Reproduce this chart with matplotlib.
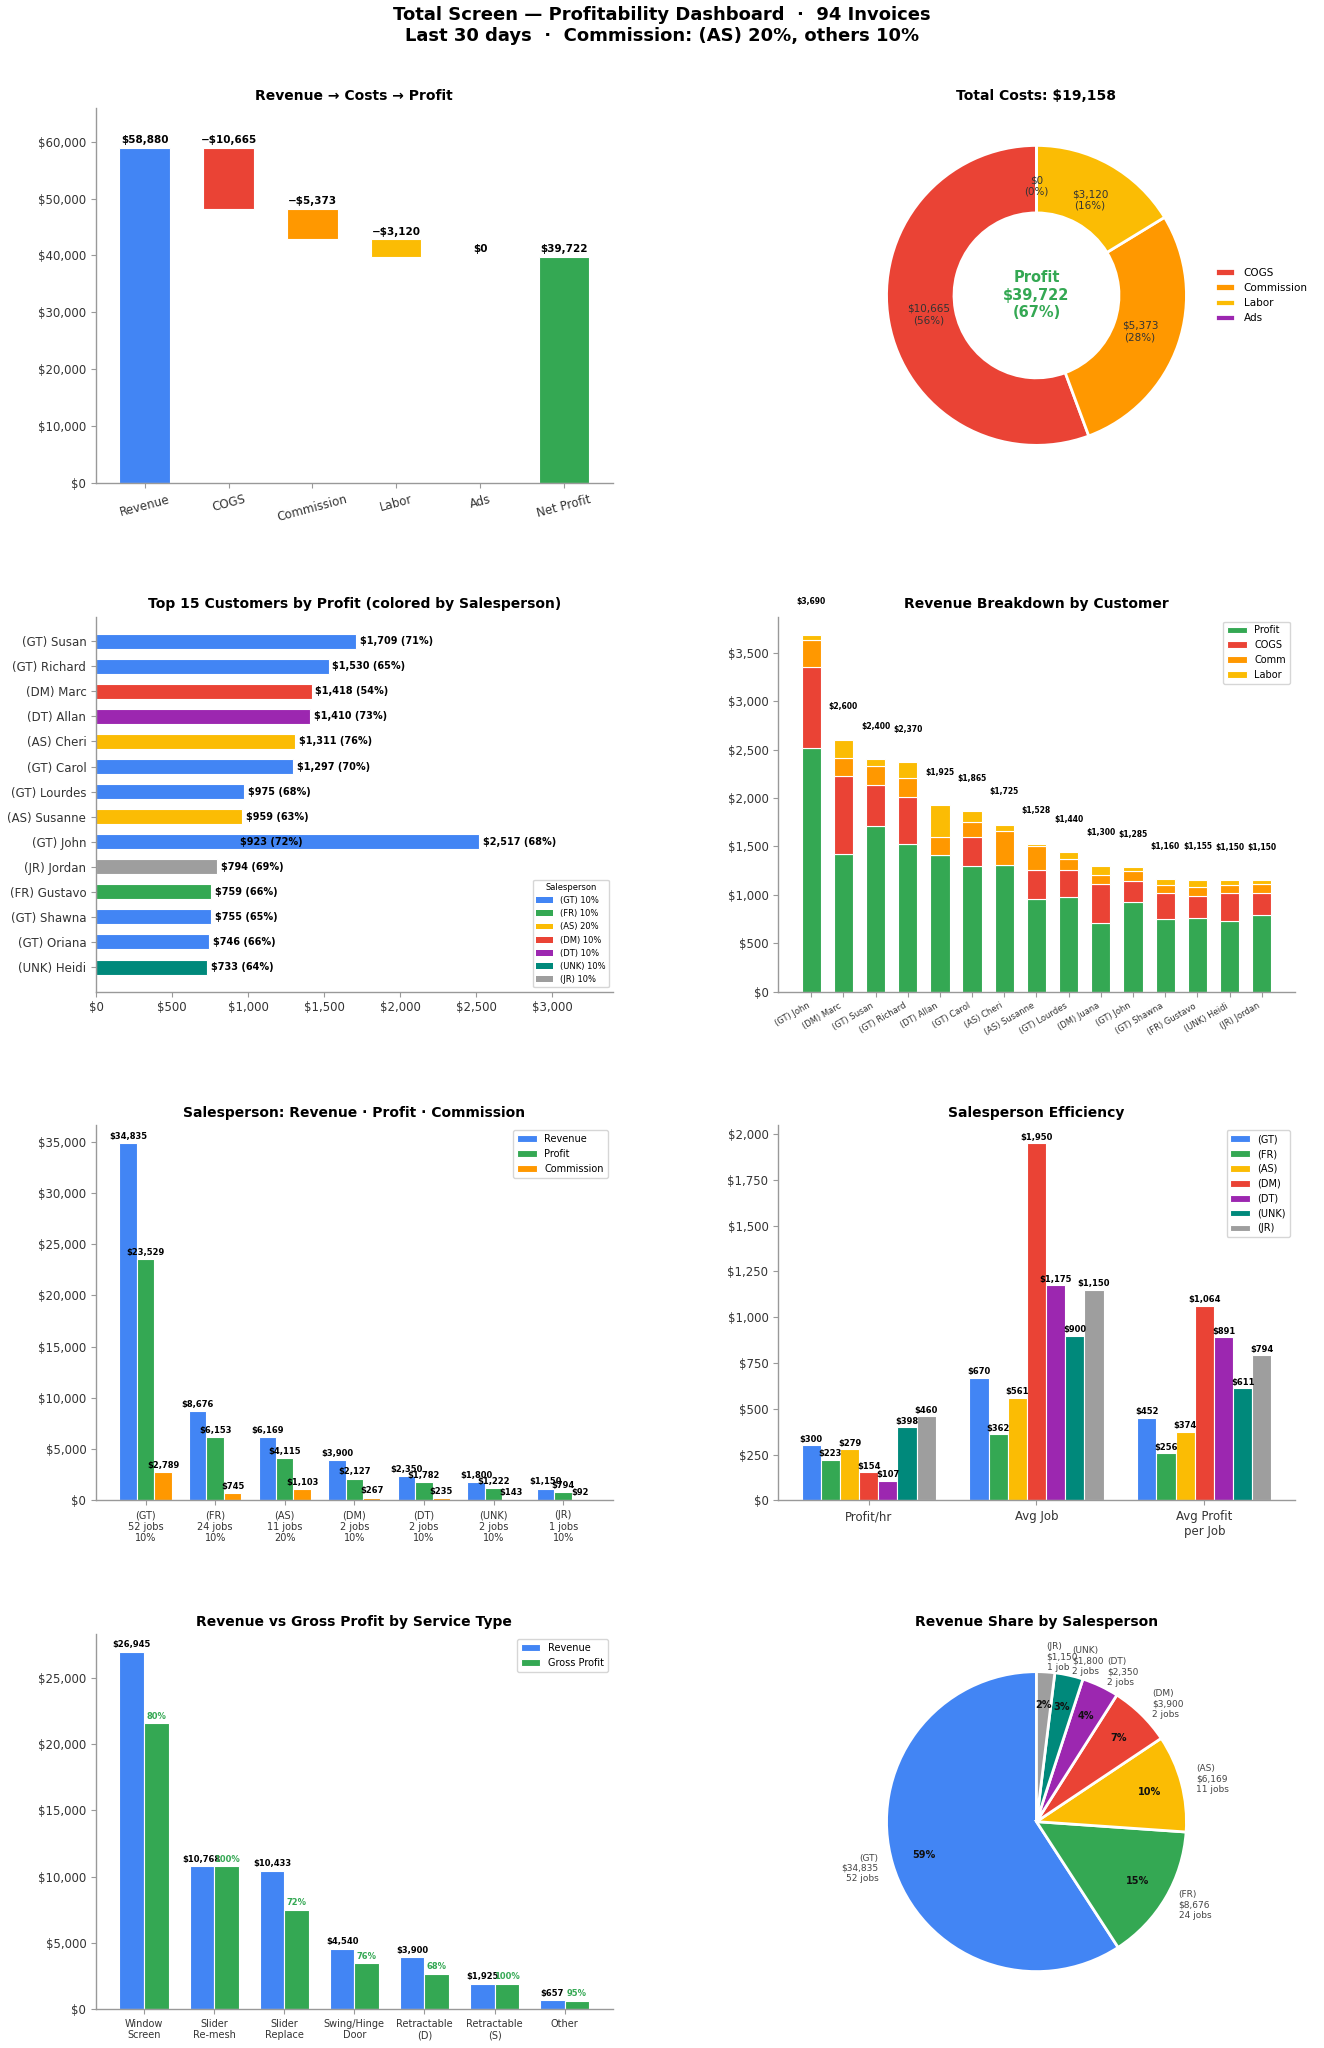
import matplotlib
matplotlib.use('Agg')
import matplotlib.pyplot as plt
from matplotlib.patches import Patch
from matplotlib.ticker import FuncFormatter
import numpy as np

BLUE = '#4285F4'
RED = '#EA4335'
ORANGE = '#FF9800'
YELLOW = '#FBBC04'
GREEN = '#34A853'
PURPLE = '#9C27B0'
TEAL = '#00897B'
GRAY = '#9E9E9E'

# ---- data ----
revenue_total = 58880
cost_names = ['COGS', 'Commission', 'Labor', 'Ads']
cost_values = [10665, 5373, 3120, 0]
net_profit = 39722
wf_labels = ['Revenue', 'COGS', 'Commission', 'Labor', 'Ads', 'Net Profit']

top_names = ['(GT) John', '(GT) Susan', '(GT) Richard', '(DM) Marc', '(DT) Allan',
             '(AS) Cheri', '(GT) Carol', '(GT) Lourdes', '(AS) Susanne', '(GT) John',
             '(JR) Jordan', '(FR) Gustavo', '(GT) Shawna', '(GT) Oriana', '(UNK) Heidi']
top_profit = [2517, 1709, 1530, 1418, 1410, 1311, 1297, 975, 959, 923, 794, 759, 755, 746, 733]
top_margin = [68, 71, 65, 54, 73, 76, 70, 68, 63, 72, 69, 66, 65, 66, 64]

bd_names = ['(GT) John', '(DM) Marc', '(GT) Susan', '(GT) Richard', '(DT) Allan',
            '(GT) Carol', '(AS) Cheri', '(AS) Susanne', '(GT) Lourdes', '(DM) Juana',
            '(GT) John', '(GT) Shawna', '(FR) Gustavo', '(UNK) Heidi', '(JR) Jordan']
bd_total = [3690, 2600, 2400, 2370, 1925, 1865, 1725, 1528, 1440, 1300, 1285, 1160, 1155, 1150, 1150]
bd_profit = [2517, 1418, 1709, 1530, 1410, 1297, 1311, 959, 975, 707, 923, 755, 759, 733, 794]
bd_cogs = [834, 813, 429, 484, 0, 296, 0, 296, 280, 407, 215, 259, 227, 281, 223]
bd_comm = [286, 179, 197, 189, 192, 157, 345, 246, 116, 89, 107, 90, 93, 87, 93]
bd_labor = [53, 190, 65, 167, 323, 115, 69, 27, 69, 97, 40, 56, 76, 49, 40]

sp_codes = ['(GT)', '(FR)', '(AS)', '(DM)', '(DT)', '(UNK)', '(JR)']
sp_rates = [10, 10, 20, 10, 10, 10, 10]
sp_jobs = [52, 24, 11, 2, 2, 2, 1]
sp_revenue = [34835, 8676, 6169, 3900, 2350, 1800, 1150]
sp_profit = [23529, 6153, 4115, 2127, 1782, 1222, 794]
sp_commission = [2789, 745, 1103, 267, 235, 143, 92]
sp_colors = [BLUE, GREEN, YELLOW, RED, PURPLE, TEAL, GRAY]

eff_metrics = ['Profit/hr', 'Avg Job', 'Avg Profit\nper Job']
eff_profit_hr = [300, 223, 279, 154, 107, 398, 460]
eff_avg_job = [670, 362, 561, 1950, 1175, 900, 1150]
eff_avg_profit = [452, 256, 374, 1064, 891, 611, 794]

svc_names = ['Window\nScreen', 'Slider\nRe-mesh', 'Slider\nReplace', 'Swing/Hinge\nDoor',
             'Retractable\n(D)', 'Retractable\n(S)', 'Other']
svc_revenue = [26945, 10768, 10433, 4540, 3900, 1925, 657]
svc_gp = [21556, 10768, 7512, 3450, 2652, 1925, 624]
svc_gp_pct = [80, 100, 72, 76, 68, 100, 95]

SP_COLORS = dict(zip(sp_codes, sp_colors))

plt.rcParams.update({
    'axes.spines.top': False,
    'axes.spines.right': False,
    'axes.edgecolor': '#999999',
    'axes.linewidth': 1.0,
    'xtick.color': '#999999',
    'ytick.color': '#999999',
    'xtick.labelcolor': '#333333',
    'ytick.labelcolor': '#333333',
    'xtick.labelsize': 8.5,
    'ytick.labelsize': 8.5,
    'axes.titlesize': 10,
    'axes.titleweight': 'bold',
    'legend.fontsize': 7,
})

money = FuncFormatter(lambda v, p: f'${v:,.0f}')
bar_kw = dict(edgecolor='white', linewidth=0.8)

fig, axes = plt.subplots(4, 2, figsize=(13.24, 20.48), dpi=100)
fig.subplots_adjust(left=0.0725, right=0.978, top=0.9473, bottom=0.019, wspace=0.32, hspace=0.357)
fig.suptitle('Total Screen \u2014 Profitability Dashboard  \u00b7  94 Invoices\n'
             'Last 30 days  \u00b7  Commission: (AS) 20%, others 10%',
             fontsize=13, fontweight='bold', y=0.997, va='top')

# ---- waterfall ----
ax = axes[0, 0]
running = revenue_total
bottoms = [0]
heights = [revenue_total]
for c in cost_values:
    running -= c
    bottoms.append(running)
    heights.append(c)
bottoms.append(0)
heights.append(net_profit)
bars = ax.bar(wf_labels, heights, bottom=bottoms, width=0.6,
              color=[BLUE, RED, ORANGE, YELLOW, PURPLE, GREEN], **bar_kw)
texts = [f'${revenue_total:,}'] + [f'\u2212${c:,}' if c else '$0' for c in cost_values] + [f'${net_profit:,}']
for b, t in zip(bars, texts):
    ax.text(b.get_x() + b.get_width() / 2, b.get_y() + b.get_height() + revenue_total * 0.008, t,
            ha='center', va='bottom', fontsize=7.5, fontweight='bold')
ax.set_ylim(0, revenue_total * 1.12)
ax.yaxis.set_major_formatter(money)
ax.tick_params(axis='x', rotation=15)
ax.set_title('Revenue \u2192 Costs \u2192 Profit')

# ---- donut ----
ax = axes[0, 1]
total_costs = sum(cost_values)
wedges, _, autotexts = ax.pie(
    cost_values, colors=[RED, ORANGE, YELLOW, PURPLE], startangle=90,
    autopct=lambda p: f'${p * total_costs / 100:,.0f}\n({p:.0f}%)', pctdistance=0.73,
    wedgeprops=dict(width=0.45, edgecolor='white', linewidth=2),
    textprops=dict(fontsize=7.5, color='#333333'))
ax.text(0, 0, f'Profit\n${net_profit:,}\n({net_profit / revenue_total * 100:.0f}%)',
        ha='center', va='center', fontsize=10.5, fontweight='bold', color=GREEN)
ax.legend(wedges, cost_names, loc='center left', bbox_to_anchor=(0.95, 0.5), frameon=False, fontsize=7.5)
ax.set_title(f'Total Costs: ${total_costs:,}')

# ---- top 15 customers ----
ax = axes[1, 0]
names_r = top_names[::-1]
profit_r = top_profit[::-1]
margin_r = top_margin[::-1]
bars = ax.barh(names_r, profit_r, height=0.6,
               color=[SP_COLORS[n.split()[0]] for n in names_r], **bar_kw)
for b, v, m in zip(bars, profit_r, margin_r):
    ax.text(b.get_width() + max(top_profit) * 0.01, b.get_y() + b.get_height() / 2,
            f'${v:,} ({m}%)', va='center', fontsize=7, fontweight='bold')
ax.set_xlim(0, max(top_profit) * 1.35)
ax.xaxis.set_major_formatter(money)
handles = [Patch(facecolor=SP_COLORS[c], label=f'{c} {r}%') for c, r in zip(sp_codes, sp_rates)]
ax.legend(handles=handles, title='Salesperson', fontsize=6, title_fontsize=6, loc='lower right')
ax.set_title('Top 15 Customers by Profit (colored by Salesperson)')

# ---- revenue breakdown ----
ax = axes[1, 1]
x = np.arange(len(bd_names))
ax.bar(x, bd_profit, width=0.6, color=GREEN, label='Profit', **bar_kw)
b1 = np.array(bd_profit)
ax.bar(x, bd_cogs, width=0.6, bottom=b1, color=RED, label='COGS', **bar_kw)
b2 = b1 + np.array(bd_cogs)
ax.bar(x, bd_comm, width=0.6, bottom=b2, color=ORANGE, label='Comm', **bar_kw)
b3 = b2 + np.array(bd_comm)
ax.bar(x, bd_labor, width=0.6, bottom=b3, color=YELLOW, label='Labor', **bar_kw)
for xi, t in zip(x, bd_total):
    ax.text(xi, t + max(bd_total) * 0.08, f'${t:,}', ha='center', va='bottom', fontsize=5.5, fontweight='bold')
ax.set_xticks(x)
ax.set_xticklabels(bd_names, rotation=30, ha='right', fontsize=6)
ax.yaxis.set_major_formatter(money)
ax.legend(loc='upper right', fontsize=7)
ax.set_title('Revenue Breakdown by Customer')

# ---- salesperson revenue / profit / commission ----
ax = axes[2, 0]
x = np.arange(len(sp_codes))
w = 0.25
groups = [(x - w, sp_revenue, BLUE, 'Revenue'), (x, sp_profit, GREEN, 'Profit'),
          (x + w, sp_commission, ORANGE, 'Commission')]
for pos, vals, col, lab in groups:
    bars = ax.bar(pos, vals, w, color=col, label=lab, **bar_kw)
    for b, v in zip(bars, vals):
        ax.text(b.get_x() + b.get_width() / 2, v + max(sp_revenue) * 0.006, f'${v:,}',
                ha='center', va='bottom', fontsize=6, fontweight='bold')
ax.set_xticks(x)
ax.set_xticklabels([f'{c}\n{j} jobs\n{r}%' for c, j, r in zip(sp_codes, sp_jobs, sp_rates)], fontsize=7)
ax.yaxis.set_major_formatter(money)
ax.legend(loc='upper right', fontsize=7)
ax.set_title('Salesperson: Revenue \u00b7 Profit \u00b7 Commission')

# ---- efficiency ----
ax = axes[2, 1]
x = np.arange(len(eff_metrics))
w = 0.8 / len(sp_codes)
eff = np.array([eff_profit_hr, eff_avg_job, eff_avg_profit])
for i, c in enumerate(sp_codes):
    bars = ax.bar(x + (i - 3) * w, eff[:, i], w, color=SP_COLORS[c], label=c, **bar_kw)
    for b, v in zip(bars, eff[:, i]):
        ax.text(b.get_x() + b.get_width() / 2, v + eff.max() * 0.004, f'${v:,}',
                ha='center', va='bottom', fontsize=6, fontweight='bold')
ax.set_xticks(x)
ax.set_xticklabels(eff_metrics)
ax.yaxis.set_major_formatter(money)
ax.legend(loc='upper right', fontsize=7)
ax.set_title('Salesperson Efficiency')

# ---- service types ----
ax = axes[3, 0]
x = np.arange(len(svc_names))
w = 0.35
rb = ax.bar(x - w / 2, svc_revenue, w, color=BLUE, label='Revenue', **bar_kw)
gb = ax.bar(x + w / 2, svc_gp, w, color=GREEN, label='Gross Profit', **bar_kw)
off = max(svc_revenue) * 0.008
for b, v in zip(rb, svc_revenue):
    ax.text(b.get_x() + b.get_width() / 2, v + off, f'${v:,}', ha='center', va='bottom',
            fontsize=6, fontweight='bold')
for b, v, p in zip(gb, svc_gp, svc_gp_pct):
    ax.text(b.get_x() + b.get_width() / 2, v + off, f'{p}%', ha='center', va='bottom',
            fontsize=6, fontweight='bold', color=GREEN)
ax.set_xticks(x)
ax.set_xticklabels(svc_names, fontsize=7)
ax.yaxis.set_major_formatter(money)
ax.legend(loc='upper right', fontsize=7)
ax.set_title('Revenue vs Gross Profit by Service Type')

# ---- revenue share pie ----
ax = axes[3, 1]
pie_labels = [f'{c}\n${r:,}\n{j} job{"" if j == 1 else "s"}' for c, r, j in zip(sp_codes, sp_revenue, sp_jobs)]
wedges, texts, autotexts = ax.pie(
    sp_revenue, labels=pie_labels, colors=sp_colors, startangle=90,
    autopct='%1.0f%%', pctdistance=0.78,
    wedgeprops=dict(edgecolor='white', linewidth=2),
    textprops=dict(fontsize=6.5, color='#444444'))
for t in autotexts:
    t.set_fontweight('bold')
    t.set_color('#111111')
    t.set_fontsize(7)
ax.set_title('Revenue Share by Salesperson')

fig.savefig('out.png', dpi=100)
